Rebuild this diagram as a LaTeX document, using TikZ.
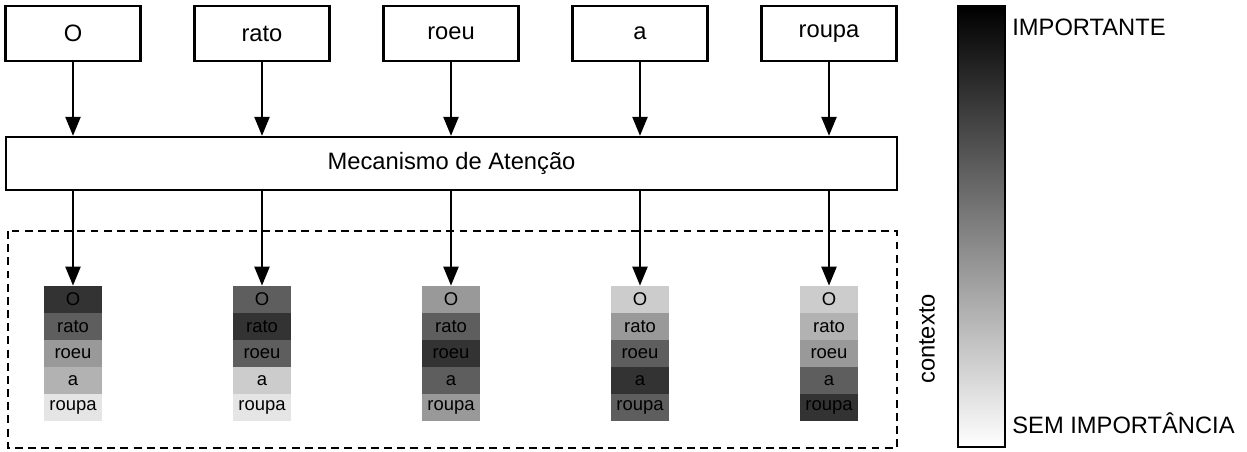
\documentclass[tikz,border=0pt]{standalone}
\usepackage{fontspec}
\setmainfont{Liberation Sans}
\usetikzlibrary{arrows.meta,calc}

\begin{document}
\begin{tikzpicture}[x=0.02cm, y=-0.02cm,
                    word/.style={draw, line width=1.3pt, minimum width=2.7cm, minimum height=1.1cm, inner sep=0pt, font=\fontsize{13.5}{16}\selectfont},
                    cell/.style={minimum width=1.17cm, minimum height=0.54cm, inner sep=0pt, font=\fontsize{10.5}{12}\selectfont},
                    arrow/.style={line width=1.3pt, -{Triangle[length=0.38cm, width=0.3cm]}}]

\useasboundingbox (0,0) rectangle (1247,452);

% Words
\foreach \w [count=\i] in {O,rato,roeu,a,roupa} {
    \node[word] (w\i) at ({73+189*(\i-1)}, 33.5) {\w};
}

% Attention mechanism
\node[word, minimum width=17.82cm, minimum height=1.06cm] (mec) at (451.5, 163.5) {Mecanismo de Atenção};

% Context box
\draw[line width=1.3pt, dash pattern=on 4.5pt off 3pt] (8,231) rectangle (897,448);
\node[rotate=90, font=\fontsize{13.5}{16}\selectfont] (ctx) at (927, 339) {contexto};

% Stacks
\foreach \i/\ga/\gb/\gc/\gd/\ge in {1/20/37/60/70/90, 2/37/20/37/80/90, 3/60/37/20/37/60,
                                    4/80/60/37/20/37, 5/80/70/60/37/20} {
    \foreach \c/\g [count=\j] in {O/\ga, rato/\gb, roeu/\gc, a/\gd, roupa/\ge} {
        \node[cell, fill=black!\the\numexpr100-\g\relax] (s\i c\j) at ({73+189*(\i-1)}, {299.5+27*(\j-1)}) {\c};
    }
    % Arrows
    \draw[arrow] (w\i.south) -- (w\i.south |- mec.north);
    \draw[arrow] (mec.south -| s\i c1.north) -- (s\i c1.north);
}

% Colour bar
\node[draw, line width=1.3pt, top color=black, bottom color=white, minimum width=0.94cm, minimum height=8.82cm, inner sep=0pt] (bar) at (981.5, 226.5) {};
\node[anchor=west, font=\fontsize{13.5}{16}\selectfont] (hi) at ($(bar.north east)+(0,22)$) {IMPORTANTE};
\node[anchor=west, font=\fontsize{13.5}{16}\selectfont] (lo) at ($(bar.south east)+(0,-25)$) {SEM IMPORTÂNCIA};

\end{tikzpicture}
\end{document}
